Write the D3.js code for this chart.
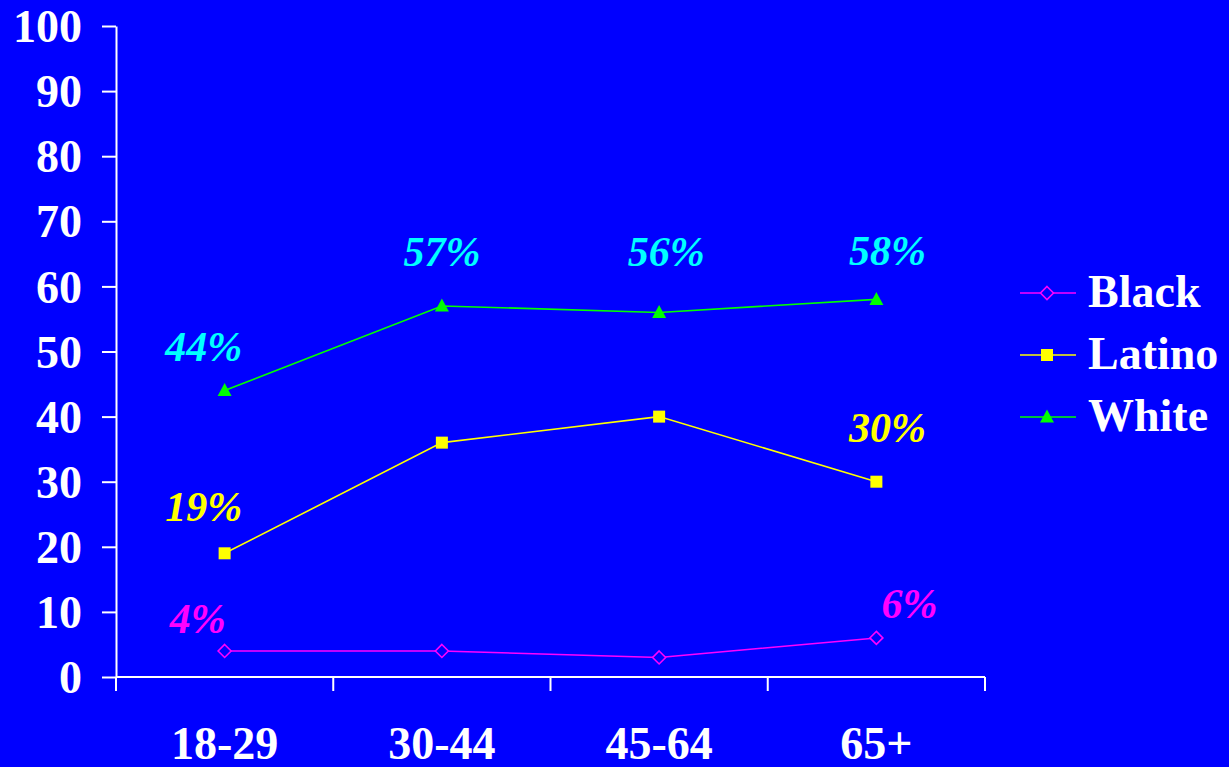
<!DOCTYPE html>
<html><head><meta charset="utf-8">
<script src="https://cdn.jsdelivr.net/npm/d3@7/dist/d3.min.js"></script>
<style>html,body{margin:0;padding:0;background:#0000FF;}svg{display:block;}</style>
</head><body><svg id="c" width="1229" height="767"></svg>
<script>
const categories = ["18-29", "30-44", "45-64", "65+"];
const yTicks = [0, 10, 20, 30, 40, 50, 60, 70, 80, 90, 100];
const seriesNames = ["Black", "Latino", "White"];
const blackValues = [4, 4, 3, 6];
const latinoValues = [19, 36, 40, 30];
const whiteValues = [44, 57, 56, 58];
// labelled points: [series, category index, text]
const pointLabels = [
  ["White", 0, "44%"], ["White", 1, "57%"], ["White", 2, "56%"], ["White", 3, "58%"],
  ["Latino", 0, "19%"], ["Latino", 3, "30%"],
  ["Black", 0, "4%"], ["Black", 3, "6%"]
];

// styling / placement (not data)
const style = {
  Black: {color: "#FF00FF", label: "#FF00FF", marker: "diamond"},
  Latino: {color: "#FFFF00", label: "#FFFF00", marker: "square"},
  White: {color: "#00FF00", label: "#00FFFF", marker: "triangle"}
};
const labelOffset = {
  "White-0": [-21, -30], "White-1": [0, -40], "White-2": [7, -46], "White-3": [11, -34],
  "Latino-0": [-21, -32], "Latino-3": [11, -40],
  "Black-0": [-27, -18], "Black-3": [33, -20]
};

const values = {Black: blackValues, Latino: latinoValues, White: whiteValues};
const svg = d3.select("#c");
const W = 1229, H = 767;
svg.append("rect").attr("width", W).attr("height", H).attr("fill", "#0000FF");

const x = d3.scaleBand().domain(categories).range([116, 985]);
const y = d3.scaleLinear().domain([0, 100]).range([677, 26]);
const font = "'Liberation Serif','Times New Roman',Times,serif";

// y axis
const yAxis = svg.append("g").attr("transform", "translate(116,0)")
  .call(d3.axisLeft(y).tickValues(yTicks).tickSize(14).tickPadding(20).tickSizeOuter(0));
yAxis.select(".domain").attr("stroke", "#fff").attr("stroke-width", 2);
yAxis.selectAll(".tick line").attr("stroke", "#fff").attr("stroke-width", 2);
yAxis.selectAll(".tick text").attr("fill", "#fff").style("font-family", font)
  .style("font-weight", "bold").style("font-size", "46px").attr("dy", "0.34em");

// x axis
const xAxis = svg.append("g").attr("transform", "translate(0,677)")
  .call(d3.axisBottom(x).tickSize(0).tickPadding(49).tickSizeOuter(0));
xAxis.select(".domain").attr("stroke", "#fff").attr("stroke-width", 2)
  .attr("d", `M116,0H985`);
xAxis.selectAll(".tick text").attr("fill", "#fff").style("font-family", font)
  .style("font-weight", "bold").style("font-size", "46px").attr("dy", "0.71em");
// category boundary ticks
const bounds = categories.map(c => x(c)).concat([x.range()[1]]);
xAxis.selectAll(".bt").data(bounds).enter().append("line")
  .attr("x1", d => d).attr("x2", d => d).attr("y1", 0).attr("y2", 14)
  .attr("stroke", "#fff").attr("stroke-width", 2);

const cx = c => x(c) + x.bandwidth() / 2;

function drawMarker(g, type, color, px, py) {
  if (type === "diamond") {
    g.append("path").attr("d", `M${px},${py-6.5}L${px+6.5},${py}L${px},${py+6.5}L${px-6.5},${py}Z`)
      .attr("fill", "#0000FF").attr("stroke", color).attr("stroke-width", 1.6);
  } else if (type === "square") {
    g.append("rect").attr("x", px - 6).attr("y", py - 6).attr("width", 12).attr("height", 12)
      .attr("fill", color);
  } else {
    g.append("path").attr("d", `M${px},${py-7.5}L${px+7},${py+5.5}L${px-7},${py+5.5}Z`).attr("fill", color);
  }
}

const line = d3.line().x((d, i) => cx(categories[i])).y(d => y(d));
seriesNames.forEach(name => {
  const s = style[name];
  const g = svg.append("g");
  g.append("path").datum(values[name]).attr("d", line).attr("fill", "none")
    .attr("stroke", s.color).attr("stroke-width", 1.6);
  values[name].forEach((v, i) => drawMarker(g, s.marker, s.color, cx(categories[i]), y(v)));
});

// point labels
pointLabels.forEach(([name, i, t]) => {
  const off = labelOffset[name + "-" + i];
  svg.append("text").attr("x", cx(categories[i]) + off[0]).attr("y", y(values[name][i]) + off[1])
    .attr("text-anchor", "middle").attr("fill", style[name].label)
    .style("font-family", font).style("font-weight", "bold").style("font-style", "italic")
    .style("font-size", "42px").text(t);
});

// legend
const legendY = [293, 355, 417];
seriesNames.forEach((name, k) => {
  const s = style[name];
  const g = svg.append("g");
  g.append("line").attr("x1", 1020).attr("x2", 1076).attr("y1", legendY[k]).attr("y2", legendY[k])
    .attr("stroke", s.color).attr("stroke-width", 1.6);
  drawMarker(g, s.marker, s.color, 1047, legendY[k]);
  g.append("text").attr("x", 1088).attr("y", legendY[k] + 14).attr("fill", "#fff")
    .style("font-family", font).style("font-weight", "bold").style("font-size", "46px").text(name);
});
</script></body></html>
